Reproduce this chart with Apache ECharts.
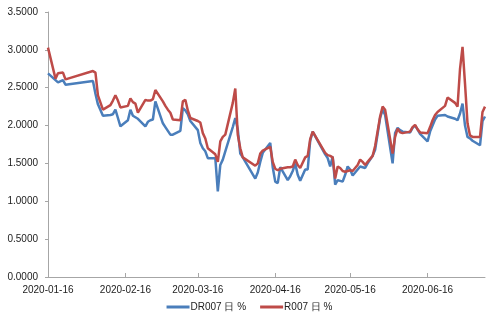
<!DOCTYPE html>
<html><head><meta charset="utf-8">
<script src="https://cdn.jsdelivr.net/npm/echarts@6/dist/echarts.min.js"></script>
<style>html,body{margin:0;padding:0;background:#fff}#c{width:499px;height:333px}</style>
</head><body><div id="c"></div>
<script>
const dates = ['2020-01-16','2020-01-19','2020-01-20','2020-01-22','2020-01-23','2020-02-03','2020-02-04','2020-02-05','2020-02-07','2020-02-10','2020-02-11','2020-02-12','2020-02-13','2020-02-14','2020-02-17','2020-02-18','2020-02-19','2020-02-20','2020-02-21','2020-02-24','2020-02-25','2020-02-26','2020-02-27','2020-02-28','2020-03-02','2020-03-03','2020-03-04','2020-03-05','2020-03-06','2020-03-09','2020-03-10','2020-03-11','2020-03-12','2020-03-13','2020-03-16','2020-03-17','2020-03-18','2020-03-19','2020-03-20','2020-03-23','2020-03-24','2020-03-25','2020-03-26','2020-03-27','2020-03-30','2020-03-31','2020-04-01','2020-04-02','2020-04-03','2020-04-08','2020-04-09','2020-04-10','2020-04-11','2020-04-14','2020-04-15','2020-04-16','2020-04-17','2020-04-18','2020-04-21','2020-04-22','2020-04-23','2020-04-24','2020-04-25','2020-04-26','2020-04-28','2020-04-29','2020-04-30','2020-05-01','2020-05-06','2020-05-07','2020-05-08','2020-05-09','2020-05-10','2020-05-11','2020-05-12','2020-05-13','2020-05-14','2020-05-15','2020-05-16','2020-05-17','2020-05-19','2020-05-20','2020-05-21','2020-05-22','2020-05-23','2020-05-25','2020-05-26','2020-05-28','2020-05-29','2020-05-30','2020-06-02','2020-06-03','2020-06-04','2020-06-05','2020-06-06','2020-06-09','2020-06-10','2020-06-11','2020-06-12','2020-06-13','2020-06-16','2020-06-17','2020-06-18','2020-06-19','2020-06-20','2020-06-23','2020-06-24','2020-06-27','2020-06-28','2020-06-29','2020-06-30','2020-07-01','2020-07-02','2020-07-03','2020-07-04','2020-07-07','2020-07-08','2020-07-09'];
const dr007 = [2.69,2.60,2.57,2.60,2.54,2.59,2.42,2.28,2.13,2.14,2.15,2.21,2.10,1.99,2.07,2.21,2.13,2.11,2.09,1.99,2.05,2.07,2.08,2.32,2.03,1.98,1.93,1.88,1.88,1.93,2.23,2.20,2.15,2.06,1.94,1.77,1.70,1.66,1.57,1.57,1.13,1.48,1.55,1.66,1.98,2.10,1.95,1.63,1.58,1.30,1.38,1.52,1.64,1.77,1.45,1.26,1.24,1.45,1.28,1.33,1.40,1.50,1.35,1.27,1.42,1.42,1.80,1.92,1.62,1.57,1.46,1.59,1.22,1.28,1.27,1.26,1.35,1.46,1.42,1.34,1.42,1.46,1.45,1.44,1.50,1.60,1.68,2.10,2.21,2.14,1.50,1.90,1.97,1.94,1.92,1.91,1.97,2.00,1.95,1.89,1.79,1.92,2.00,2.08,2.13,2.14,2.12,2.09,2.07,2.16,2.29,2.00,1.85,1.83,1.80,1.74,2.06,2.12];
const r007 = [3.03,2.62,2.69,2.70,2.61,2.72,2.70,2.40,2.21,2.27,2.33,2.40,2.33,2.24,2.26,2.36,2.31,2.29,2.17,2.34,2.33,2.33,2.35,2.47,2.32,2.26,2.21,2.17,2.08,2.07,2.32,2.34,2.20,2.10,2.06,2.04,1.90,1.83,1.70,1.62,1.52,1.79,1.85,1.88,2.30,2.49,1.88,1.70,1.58,1.47,1.50,1.63,1.67,1.72,1.52,1.43,1.41,1.43,1.45,1.45,1.46,1.55,1.48,1.44,1.58,1.60,1.82,1.92,1.64,1.61,1.60,1.58,1.30,1.46,1.44,1.40,1.39,1.40,1.41,1.40,1.48,1.55,1.52,1.48,1.52,1.60,1.73,2.12,2.25,2.21,1.63,1.85,1.96,1.91,1.90,1.92,1.98,2.01,1.95,1.91,1.90,1.98,2.07,2.14,2.18,2.26,2.37,2.30,2.25,2.75,3.04,2.55,2.03,1.87,1.85,1.85,2.18,2.25];
const seriesNames = ['DR007 日 %', 'R007 日 %'];
const axisStart = '2020-01-16';
const axisEnd = '2020-07-09';

// build full daily category axis
const fmt = d => d.toISOString().slice(0, 10);
const allDays = [];
for (let t = Date.parse(axisStart + 'T00:00:00Z'); t <= Date.parse(axisEnd + 'T00:00:00Z'); t += 86400000) {
  allDays.push(fmt(new Date(t)));
}
const idx = {};
dates.forEach((d, i) => idx[d] = i);
const fill = arr => allDays.map(d => (d in idx ? arr[idx[d]] : null));
const isTick = (i, v) => v.slice(8) === '16';

const chart = echarts.init(document.getElementById('c'));
const txt = {color: '#222', fontFamily: 'Liberation Sans, Arial, sans-serif', fontSize: 10};
chart.setOption({
  animation: false,
  backgroundColor: '#fff',
  grid: {left: 48, right: 14, top: 12, bottom: 56, containLabel: false},
  legend: {
    bottom: 16, left: 'center', icon: 'rect', itemWidth: 23, itemHeight: 3, itemGap: 14,
    textStyle: Object.assign({}, txt, {padding: [0, 0, 0, -4]}),
    data: seriesNames
  },
  xAxis: {
    type: 'category', data: allDays, boundaryGap: false,
    axisLine: {lineStyle: {color: '#a6a6a6', width: 1}},
    axisTick: {interval: isTick, inside: true, length: 4, lineStyle: {color: '#a6a6a6'}},
    axisLabel: Object.assign({}, txt, {interval: isTick, margin: 8}),
    splitLine: {show: false}
  },
  yAxis: {
    type: 'value', min: 0, max: 3.5, interval: 0.5,
    axisLine: {show: true, lineStyle: {color: '#a6a6a6', width: 1}},
    axisTick: {show: true, length: 3, lineStyle: {color: '#a6a6a6'}},
    axisLabel: Object.assign({}, txt, {margin: 10, formatter: v => v.toFixed(4)}),
    splitLine: {show: false}
  },
  series: [
    {name: seriesNames[0], type: 'line', data: fill(dr007), connectNulls: true, symbol: 'none',
     lineStyle: {color: '#4a7ebb', width: 2.5}, itemStyle: {color: '#4a7ebb'}},
    {name: seriesNames[1], type: 'line', data: fill(r007), connectNulls: true, symbol: 'none',
     lineStyle: {color: '#be4b48', width: 2.5}, itemStyle: {color: '#be4b48'}}
  ]
});
</script>
</body></html>
